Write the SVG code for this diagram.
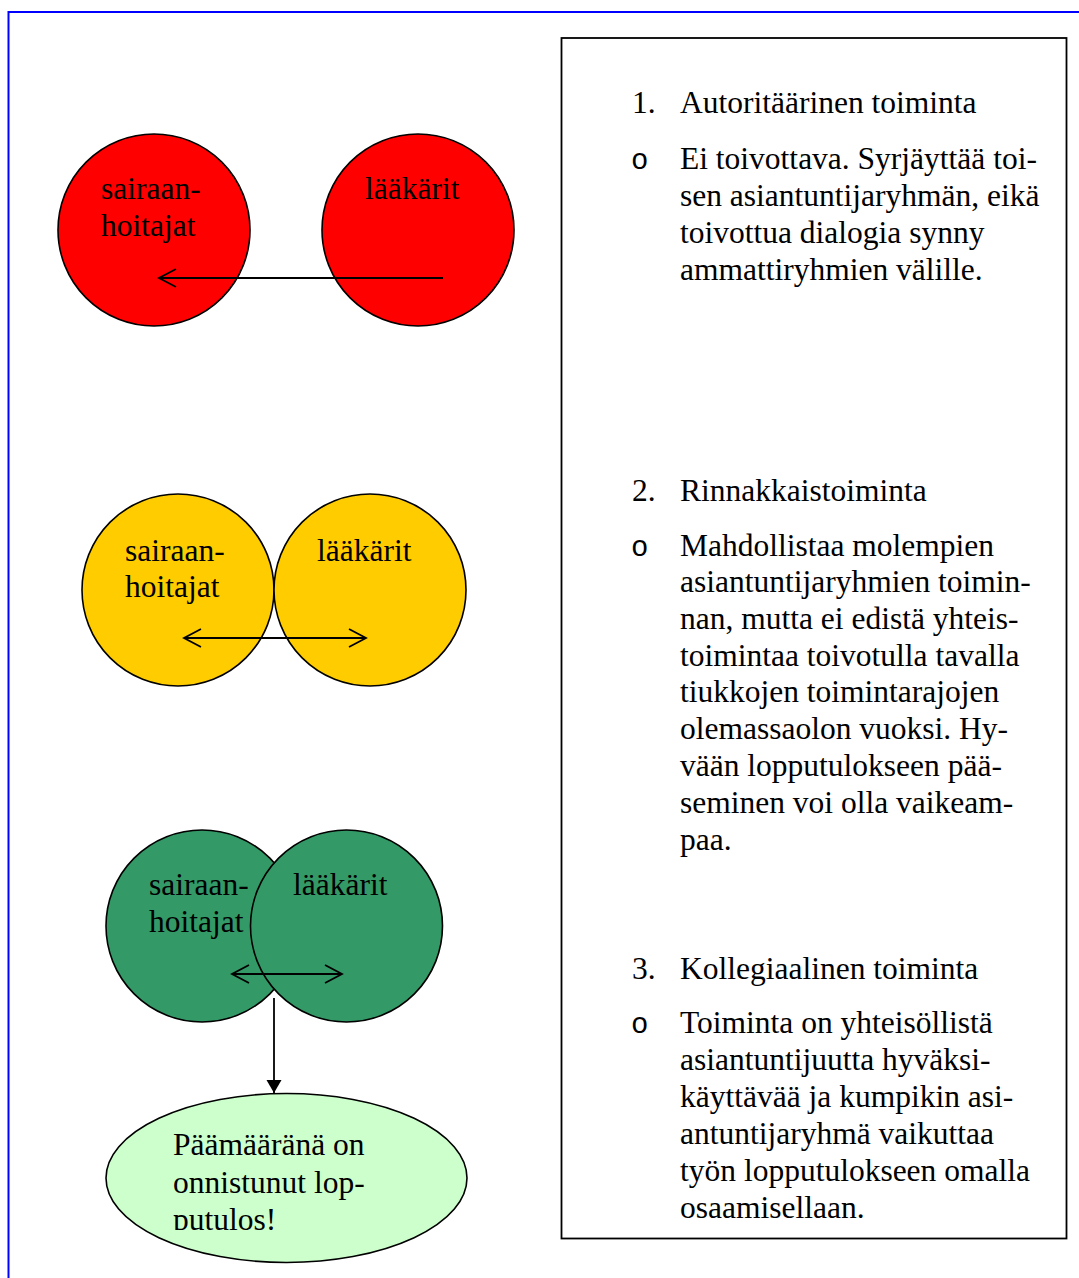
<svg xmlns="http://www.w3.org/2000/svg" width="1079" height="1278" viewBox="0 0 1079 1278">
<style>
.t{font-family:"Liberation Serif","Times New Roman",serif;font-size:31.5px;fill:#000}
.b{font-family:"Liberation Mono","Courier New",monospace;font-size:29px;fill:#000}
.c{stroke:#000;stroke-width:1.6}
.ln{stroke:#000;stroke-width:1.8;fill:none}
</style>
<defs>
<marker id="open" markerUnits="userSpaceOnUse" viewBox="-20 -12 22 24" markerWidth="22" markerHeight="24" refX="0" refY="0" orient="auto-start-reverse">
<path d="M-17,-9 L0,0 L-17,9" fill="none" stroke="#000" stroke-width="1.8"/>
</marker>
<marker id="solid" markerUnits="userSpaceOnUse" viewBox="-14 -9 15 18" markerWidth="15" markerHeight="18" refX="0" refY="0" orient="auto">
<path d="M-13,-7.5 L0,0 L-13,7.5 Z" fill="#000"/>
</marker>
<clipPath id="ellclip"><rect x="100" y="1090" width="380" height="140"/></clipPath>
</defs>
<rect width="1079" height="1278" fill="#fff"/>
<g id="frame">
<path d="M8.5,1278 L8.5,12 L1079,12" fill="none" stroke="#0000FF" stroke-width="2"/>
</g>
<g id="red-nurses"><circle class="c" cx="154" cy="230" r="96" fill="#FF0000"/>
<text class="t" x="101" y="199">sairaan-</text><text class="t" x="101" y="236">hoitajat</text></g>
<g id="red-doctors"><circle class="c" cx="418" cy="230" r="96" fill="#FF0000"/>
<text class="t" x="365" y="199">lääkärit</text></g>
<g id="yellow-nurses"><circle class="c" cx="178" cy="590" r="96" fill="#FFCC00"/>
<text class="t" x="125" y="561">sairaan-</text><text class="t" x="125" y="597">hoitajat</text></g>
<g id="yellow-doctors"><circle class="c" cx="370" cy="590" r="96" fill="#FFCC00"/>
<text class="t" x="317" y="561">lääkärit</text></g>
<g id="green-nurses"><circle class="c" cx="202" cy="926" r="96" fill="#339966"/>
<text class="t" x="149" y="895">sairaan-</text><text class="t" x="149" y="932">hoitajat</text></g>
<g id="green-doctors"><circle class="c" cx="346.5" cy="926" r="96" fill="#339966"/>
<text class="t" x="293" y="895">lääkärit</text></g>
<g id="goal"><ellipse class="c" cx="286.5" cy="1178" rx="180.5" ry="84.5" fill="#CCFFCC"/>
<g clip-path="url(#ellclip)">
<text class="t" x="173" y="1155">Päämääränä on</text>
<text class="t" x="173" y="1193">onnistunut lop-</text>
<text class="t" x="173" y="1230">putulos!</text></g></g>
<g id="connectors">
<line class="ln" x1="443" y1="278" x2="159" y2="278" marker-end="url(#open)"/>
<line class="ln" x1="184" y1="638" x2="366" y2="638" marker-start="url(#open)" marker-end="url(#open)"/>
<line class="ln" x1="232" y1="974" x2="342" y2="974" marker-start="url(#open)" marker-end="url(#open)"/>
<line class="ln" x1="274" y1="998" x2="274" y2="1093" marker-end="url(#solid)"/>
</g>
<g id="textbox">
<rect x="561.5" y="38" width="505" height="1200.5" fill="none" stroke="#000" stroke-width="1.8"/>
<text class="t" x="632" y="113">1.</text><text class="t" x="680" y="113">Autoritäärinen toiminta</text>
<text class="b" x="631" y="169">o</text>
<text class="t" x="680" y="169">Ei toivottava. Syrjäyttää toi-</text>
<text class="t" x="680" y="206">sen asiantuntijaryhmän, eikä</text>
<text class="t" x="680" y="243">toivottua dialogia synny</text>
<text class="t" x="680" y="280">ammattiryhmien välille.</text>
<text class="t" x="632" y="501">2.</text><text class="t" x="680" y="501">Rinnakkaistoiminta</text>
<text class="b" x="631" y="556">o</text>
<text class="t" x="680" y="556">Mahdollistaa molempien</text>
<text class="t" x="680" y="592">asiantuntijaryhmien toimin-</text>
<text class="t" x="680" y="629">nan, mutta ei edistä yhteis-</text>
<text class="t" x="680" y="666">toimintaa toivotulla tavalla</text>
<text class="t" x="680" y="702">tiukkojen toimintarajojen</text>
<text class="t" x="680" y="739">olemassaolon vuoksi. Hy-</text>
<text class="t" x="680" y="776">vään lopputulokseen pää-</text>
<text class="t" x="680" y="813">seminen voi olla vaikeam-</text>
<text class="t" x="680" y="850">paa.</text>
<text class="t" x="632" y="979">3.</text><text class="t" x="680" y="979">Kollegiaalinen toiminta</text>
<text class="b" x="631" y="1033">o</text>
<text class="t" x="680" y="1033">Toiminta on yhteisöllistä</text>
<text class="t" x="680" y="1070">asiantuntijuutta hyväksi-</text>
<text class="t" x="680" y="1107">käyttävää ja kumpikin asi-</text>
<text class="t" x="680" y="1144">antuntijaryhmä vaikuttaa</text>
<text class="t" x="680" y="1181">työn lopputulokseen omalla</text>
<text class="t" x="680" y="1218">osaamisellaan.</text>
</g>
</svg>
